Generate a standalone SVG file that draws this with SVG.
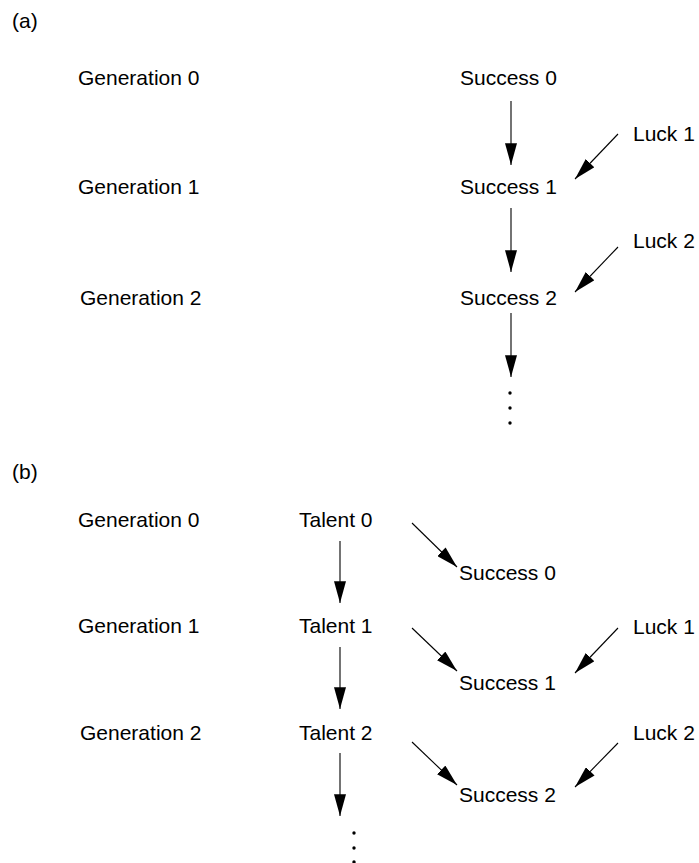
<svg xmlns="http://www.w3.org/2000/svg" width="699" height="863" viewBox="0 0 699 863">
  <style>
    text { font-family: "Liberation Sans", Arial, Helvetica, sans-serif; font-size: 21px; fill: #000; }
    .edge { stroke: #000; stroke-width: 1.1; fill: none; marker-end: url(#head); }
  </style>
  <defs>
    <marker id="head" markerUnits="userSpaceOnUse" markerWidth="22" markerHeight="12" viewBox="0 0 20 11" refX="20" refY="5.5" orient="auto">
      <path d="M0,0 L20,5.5 L0,11 z" fill="#000"/>
    </marker>
  </defs>
  <rect width="699" height="863" fill="#fff"/>

  <!-- panel (a) -->
  <text x="12" y="28">(a)</text>
  <g id="a-gen0"><text x="78" y="85">Generation 0</text></g>
  <g id="a-gen1"><text x="78" y="194">Generation 1</text></g>
  <g id="a-gen2"><text x="80" y="305">Generation 2</text></g>
  <g id="a-success0"><text x="460" y="85">Success 0</text></g>
  <g id="a-success1"><text x="460" y="194">Success 1</text></g>
  <g id="a-success2"><text x="460" y="305">Success 2</text></g>
  <g id="a-luck1"><text x="633" y="141">Luck 1</text></g>
  <g id="a-luck2"><text x="633" y="248">Luck 2</text></g>
  <g id="a-more">
    <circle cx="510" cy="393" r="1.7"/>
    <circle cx="510" cy="408" r="1.7"/>
    <circle cx="510" cy="423" r="1.7"/>
  </g>

  <!-- panel (b) -->
  <text x="12" y="479">(b)</text>
  <g id="b-gen0"><text x="78" y="527">Generation 0</text></g>
  <g id="b-gen1"><text x="78" y="633">Generation 1</text></g>
  <g id="b-gen2"><text x="80" y="740">Generation 2</text></g>
  <g id="b-talent0"><text x="299" y="527">Talent 0</text></g>
  <g id="b-talent1"><text x="299" y="633">Talent 1</text></g>
  <g id="b-talent2"><text x="299" y="740">Talent 2</text></g>
  <g id="b-success0"><text x="459" y="580">Success 0</text></g>
  <g id="b-success1"><text x="459" y="690">Success 1</text></g>
  <g id="b-success2"><text x="459" y="802">Success 2</text></g>
  <g id="b-luck1"><text x="633" y="634">Luck 1</text></g>
  <g id="b-luck2"><text x="633" y="740">Luck 2</text></g>
  <g id="b-more">
    <circle cx="354" cy="833" r="1.7"/>
    <circle cx="354" cy="848" r="1.7"/>
    <circle cx="354" cy="862" r="1.7"/>
  </g>

  <!-- connectors -->
  <g id="edges">
    <line class="edge" x1="511" y1="101" x2="511" y2="165"/>
    <line class="edge" x1="511" y1="208" x2="511" y2="272"/>
    <line class="edge" x1="511" y1="313" x2="511" y2="377"/>
    <line class="edge" x1="618" y1="134" x2="575" y2="179"/>
    <line class="edge" x1="618" y1="247" x2="575" y2="292"/>

    <line class="edge" x1="340" y1="541" x2="340" y2="603"/>
    <line class="edge" x1="340" y1="647" x2="340" y2="709"/>
    <line class="edge" x1="340" y1="753" x2="340" y2="816"/>
    <line class="edge" x1="412" y1="523" x2="457" y2="567"/>
    <line class="edge" x1="412" y1="628" x2="457" y2="671"/>
    <line class="edge" x1="412" y1="742" x2="457" y2="785"/>
    <line class="edge" x1="618" y1="628" x2="575" y2="673"/>
    <line class="edge" x1="618" y1="743" x2="575" y2="787"/>
  </g>
</svg>
